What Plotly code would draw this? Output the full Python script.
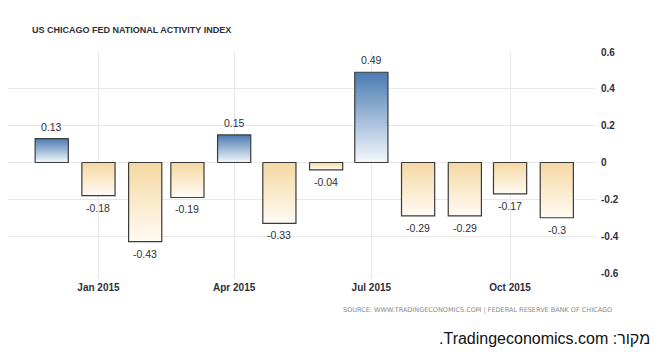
import plotly.graph_objects as go
import pandas as pd

# ---- data ----
months = ["2014-12-01", "2015-01-01", "2015-02-01", "2015-03-01", "2015-04-01", "2015-05-01",
          "2015-06-01", "2015-07-01", "2015-08-01", "2015-09-01", "2015-10-01", "2015-11-01"]
values = [0.13, -0.18, -0.43, -0.19, 0.15, -0.33, -0.04, 0.49, -0.29, -0.29, -0.17, -0.3]
value_labels = ["0.13", "-0.18", "-0.43", "-0.19", "0.15", "-0.33", "-0.04", "0.49",
                "-0.29", "-0.29", "-0.17", "-0.3"]
x_tick_dates = ["2015-01-01", "2015-04-01", "2015-07-01", "2015-10-01"]
x_tick_labels = ["Jan 2015", "Apr 2015", "Jul 2015", "Oct 2015"]
y_ticks = [0.6, 0.4, 0.2, 0, -0.2, -0.4, -0.6]
y_tick_labels = ["0.6", "0.4", "0.2", "0", "-0.2", "-0.4", "-0.6"]

title = "US CHICAGO FED NATIONAL ACTIVITY INDEX"
source = "SOURCE: WWW.TRADINGECONOMICS.COM | FEDERAL RESERVE BANK OF CHICAGO"
hebrew_note = "\u202bמקור: Tradingeconomics.com.\u202c"

# ---- styling ----
POS_SCALE = [[0, "#f4f8fc"], [1, "#4a7bb2"]]
NEG_SCALE = [[0, "#fffbf4"], [1, "#f5d8a2"]]
HALF_WIDTH = pd.Timedelta(days=11)
FONT = "Liberation Sans"
TEXT_COLOR = "#2e2e3a"

fig = go.Figure()

dates = pd.to_datetime(months)
for d, v in zip(dates, values):
    x0, x1 = d - HALF_WIDTH, d + HALF_WIDTH
    fig.add_trace(go.Scatter(
        x=[x0, x1, x1, x0, x0], y=[0, 0, v, v, 0],
        mode="lines", fill="toself",
        line=dict(color="#3a3a3a", width=1.2),
        fillgradient=dict(type="vertical", colorscale=POS_SCALE if v > 0 else NEG_SCALE),
        hoverinfo="skip", showlegend=False,
    ))

for d, v, lab in zip(dates, values, value_labels):
    fig.add_annotation(
        x=d, y=v, text=lab, showarrow=False,
        yanchor="bottom" if v > 0 else "top",
        yshift=4 if v > 0 else -4,
        font=dict(family=FONT, size=10.5, color=TEXT_COLOR),
    )

fig.update_layout(
    width=659, height=360,
    margin=dict(l=8, r=63, t=52, b=87),
    paper_bgcolor="white", plot_bgcolor="white",
    showlegend=False,
    xaxis=dict(
        type="date",
        range=["2014-11-02", "2015-11-27"],
        tickvals=x_tick_dates, ticktext=x_tick_labels,
        showgrid=True, gridcolor="#e8e8e8", gridwidth=1,
        ticks="outside", ticklen=5, tickcolor="#e0e0e0",
        showline=False, zeroline=False,
        tickfont=dict(family=FONT, size=10, color=TEXT_COLOR, weight="bold"),
    ),
    yaxis=dict(
        side="right",
        range=[-0.6, 0.6],
        tickvals=y_ticks, ticktext=y_tick_labels,
        showgrid=True, gridcolor="#e8e8e8", gridwidth=1,
        zeroline=False, showline=False,
        ticks="", ticklabelstandoff=4,
        tickfont=dict(family=FONT, size=10, color=TEXT_COLOR, weight="bold"),
    ),
)

fig.add_annotation(
    xref="paper", yref="paper", x=0, y=1, xshift=22, yshift=22,
    xanchor="left", yanchor="middle", showarrow=False, text=title,
    font=dict(family=FONT, size=9, color=TEXT_COLOR, weight="bold"),
)
fig.add_annotation(
    xref="paper", yref="paper", x=1, y=0, xshift=18, yshift=-37,
    xanchor="right", yanchor="middle", showarrow=False, text=source,
    font=dict(family="DejaVu Sans", size=6.5, color="#8a8a8a"),
)
fig.add_annotation(
    xref="paper", yref="paper", x=1, y=0, xshift=56, yshift=-65,
    xanchor="right", yanchor="middle", showarrow=False, text=hebrew_note,
    font=dict(family="Liberation Sans", size=16, color="#111111"),
)

fig.write_html("out.html", config={"displayModeBar": False},
               post_script="document.body.style.margin='0';")
